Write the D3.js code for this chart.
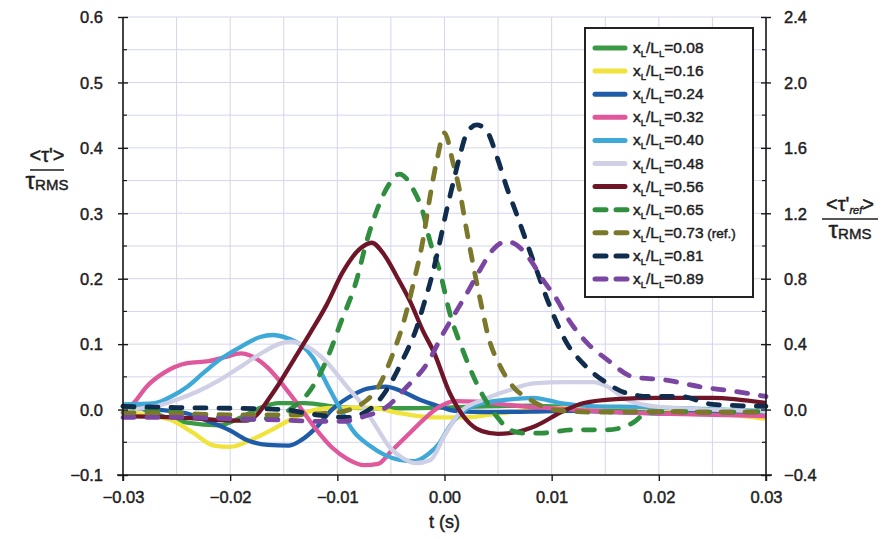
<!DOCTYPE html>
<html><head><meta charset="utf-8">
<script src="https://cdn.jsdelivr.net/npm/d3@7"></script>
<style>
body{margin:0;background:#fff;}
svg text{font-family:"Liberation Sans",Arial,sans-serif;fill:#1e1e1e;stroke:#1e1e1e;stroke-width:0.45px;}
</style></head>
<body><svg id="c" width="888" height="539"></svg>
<script>
// ---------- data ----------
const seriesLabels = ["0.08","0.16","0.24","0.32","0.40","0.48","0.56","0.65","0.73 (ref.)","0.81","0.89"];
const xTicks = [-0.03,-0.02,-0.01,0.00,0.01,0.02,0.03];
const yTicksLeft = [-0.1,0.0,0.1,0.2,0.3,0.4,0.5,0.6];
const yTicksRight = [-0.4,0.0,0.4,0.8,1.2,1.6,2.0,2.4];

const t08 = [-0.030,-0.028,-0.026,-0.024,-0.021,-0.019,-0.017,-0.0155,-0.013,-0.010,-0.007,-0.004,0.000,0.004,0.008,0.012,0.016,0.020,0.025,0.030];
const v08 = [0.008,0.000,-0.012,-0.020,-0.024,-0.012,0.004,0.010,0.010,0.004,0.002,0.002,0.003,0.005,0.006,0.003,-0.002,-0.005,-0.007,-0.005];

const t16 = [-0.030,-0.028,-0.0255,-0.0235,-0.0215,-0.0200,-0.0180,-0.0160,-0.0140,-0.0120,-0.0100,-0.0070,-0.0040,-0.0010,0.0020,0.0050,0.0090,0.0130,0.0170,0.0210,0.0250,0.0300];
const v16 = [0.002,-0.008,-0.016,-0.035,-0.055,-0.057,-0.046,-0.030,-0.012,0.000,0.003,0.003,-0.006,-0.012,-0.012,-0.006,0.000,0.004,0.004,0.000,-0.005,-0.014];

const t24 = [-0.030,-0.027,-0.024,-0.022,-0.020,-0.0185,-0.0165,-0.0145,-0.0133,-0.0120,-0.0105,-0.0090,-0.0072,-0.0055,-0.0040,-0.0023,-0.0005,0.0010,0.0040,0.0080,0.0120,0.0160,0.0200,0.0250,0.0300];
const v24 = [0.003,0.000,-0.006,-0.018,-0.032,-0.046,-0.054,-0.055,-0.046,-0.028,0.000,0.018,0.032,0.035,0.028,0.015,0.005,-0.002,-0.004,-0.003,-0.002,-0.004,-0.006,-0.005,-0.004];

const t32 = [-0.030,-0.029,-0.0278,-0.0262,-0.024,-0.022,-0.0205,-0.019,-0.0178,-0.0165,-0.0150,-0.0135,-0.0120,-0.0105,-0.0090,-0.0075,-0.0062,-0.0050,-0.0035,-0.0020,-0.0005,0.0010,0.0030,0.0060,0.0090,0.0120,0.0160,0.0200,0.0250,0.0300];
const v32 = [-0.004,0.010,0.035,0.056,0.071,0.074,0.080,0.086,0.080,0.064,0.036,0.004,-0.030,-0.058,-0.076,-0.085,-0.083,-0.064,-0.040,-0.016,0.004,0.013,0.012,0.007,0.003,0.000,-0.004,-0.006,-0.008,-0.010];

const t40 = [-0.030,-0.027,-0.0255,-0.024,-0.0225,-0.021,-0.019,-0.0172,-0.0160,-0.0148,-0.0135,-0.0123,-0.0110,-0.0097,-0.0085,-0.0070,-0.0055,-0.0042,-0.0028,-0.0015,-0.0005,0.0005,0.0020,0.0036,0.0058,0.0083,0.0108,0.0140,0.0180,0.0220,0.0260,0.0300];
const v40 = [0.008,0.010,0.020,0.035,0.056,0.076,0.096,0.111,0.114,0.110,0.100,0.080,0.040,0.000,-0.033,-0.055,-0.070,-0.077,-0.079,-0.068,-0.052,-0.025,0.000,0.010,0.015,0.018,0.010,0.005,0.004,0.002,0.000,-0.002];

const t48 = [-0.030,-0.027,-0.025,-0.023,-0.021,-0.0188,-0.0169,-0.0155,-0.0144,-0.0128,-0.0112,-0.0091,-0.0078,-0.0063,-0.0051,-0.0039,-0.0027,-0.0013,0.0000,0.0014,0.0036,0.0061,0.0083,0.0114,0.0139,0.0152,0.0170,0.0200,0.0250,0.0300];
const v48 = [0.000,0.005,0.015,0.028,0.045,0.068,0.088,0.100,0.104,0.096,0.076,0.035,0.010,-0.028,-0.058,-0.074,-0.082,-0.077,-0.040,-0.005,0.015,0.030,0.040,0.042,0.042,0.035,0.015,0.004,0.000,-0.003];

const t56 = [-0.030,-0.025,-0.021,-0.0185,-0.0175,-0.0165,-0.0155,-0.0140,-0.0125,-0.0110,-0.0095,-0.0080,-0.0068,-0.0056,-0.0045,-0.0032,-0.0020,-0.0010,0.0005,0.0020,0.0035,0.0050,0.0065,0.0085,0.0110,0.0130,0.0160,0.0200,0.0250,0.0300];
const v56 = [-0.010,-0.012,-0.016,-0.017,-0.008,0.014,0.038,0.078,0.118,0.160,0.210,0.244,0.255,0.236,0.205,0.165,0.120,0.088,0.025,-0.015,-0.033,-0.037,-0.035,-0.025,-0.003,0.010,0.016,0.018,0.018,0.010];

const t65 = [-0.030,-0.027,-0.024,-0.021,-0.018,-0.0155,-0.0141,-0.0125,-0.0110,-0.0097,-0.0082,-0.0073,-0.0063,-0.0051,-0.0042,-0.0029,-0.0020,-0.0014,-0.0004,0.0005,0.0017,0.0033,0.0049,0.0061,0.0075,0.0089,0.0120,0.0152,0.0176,0.0189,0.0210,0.0250,0.0300];
const v65 = [0.005,0.000,-0.006,-0.012,-0.015,-0.010,0.004,0.030,0.076,0.132,0.198,0.255,0.305,0.346,0.360,0.336,0.301,0.260,0.209,0.147,0.091,0.030,-0.011,-0.031,-0.036,-0.036,-0.031,-0.031,-0.020,-0.005,-0.003,-0.004,-0.003];

const t73 = [-0.030,-0.025,-0.020,-0.015,-0.010,-0.0072,-0.0060,-0.0048,-0.0039,-0.0029,-0.0020,-0.0014,-0.0007,0.0000,0.0008,0.0014,0.0020,0.0027,0.0036,0.0040,0.0052,0.0064,0.0080,0.0101,0.0140,0.0200,0.0250,0.0300];
const v73 = [-0.005,-0.006,-0.008,-0.008,-0.004,0.015,0.040,0.086,0.129,0.193,0.260,0.321,0.382,0.423,0.377,0.336,0.280,0.219,0.147,0.117,0.066,0.035,0.015,0.000,-0.004,-0.003,-0.004,-0.004];

const t81 = [-0.030,-0.025,-0.020,-0.015,-0.012,-0.009,-0.0075,-0.0067,-0.0054,-0.0039,-0.0026,-0.0020,-0.0011,-0.0004,0.0002,0.0008,0.0014,0.0021,0.0030,0.0039,0.0049,0.0058,0.0067,0.0077,0.0086,0.0095,0.0105,0.0114,0.0129,0.0152,0.0170,0.0192,0.0220,0.0250,0.0300];
const v81 = [0.005,0.003,0.002,0.000,-0.008,-0.012,-0.005,0.004,0.030,0.076,0.125,0.157,0.209,0.259,0.305,0.346,0.386,0.423,0.435,0.427,0.386,0.340,0.300,0.254,0.213,0.172,0.132,0.102,0.071,0.040,0.025,0.020,0.020,0.008,0.005];

const t89 = [-0.030,-0.025,-0.020,-0.015,-0.012,-0.0095,-0.0076,-0.0054,-0.0035,-0.0016,-0.0001,0.0008,0.0021,0.0033,0.0045,0.0058,0.0067,0.0080,0.0092,0.0105,0.0114,0.0133,0.0152,0.0176,0.0207,0.0238,0.0270,0.0300];
const v89 = [-0.012,-0.012,-0.014,-0.016,-0.018,-0.018,-0.011,0.004,0.035,0.071,0.117,0.142,0.178,0.213,0.244,0.257,0.252,0.229,0.198,0.168,0.142,0.102,0.076,0.050,0.045,0.035,0.028,0.020];

const seriesT = [t08,t16,t24,t32,t40,t48,t56,t65,t73,t81,t89];
const seriesV = [v08,v16,v24,v32,v40,v48,v56,v65,v73,v81,v89];
const colors = ["#3b9a46","#efe33c","#1f5ca8","#e0589c","#3ea9d8","#cfd0e6","#6e1528","#2f8f3f","#7b782c","#102d4d","#7a46a2"];
const dashed = [false,false,false,false,false,false,false,true,true,true,true];

// ---------- layout ----------
const svg = d3.select("#c");
const L=123, R=766, T=17, B=475;
const x = d3.scaleLinear().domain([-0.03,0.03]).range([L,R]);
const y = d3.scaleLinear().domain([-0.1,0.6]).range([B,T]);
const y2 = d3.scaleLinear().domain([-0.4,2.4]).range([B,T]);

// grid
const gridCol="#d5d5ec";
const g = svg.append("g");
g.selectAll("line.v").data(d3.range(-0.03,0.0301,0.005)).join("line")
  .attr("x1",d=>x(d)).attr("x2",d=>x(d)).attr("y1",T).attr("y2",B)
  .attr("stroke",gridCol).attr("stroke-width",1);
g.selectAll("line.h").data(d3.range(-0.1,0.601,0.05)).join("line")
  .attr("x1",L).attr("x2",R).attr("y1",d=>y(d)).attr("y2",d=>y(d))
  .attr("stroke",gridCol).attr("stroke-width",1);

// series
const line = d3.line().x(d=>x(d[0])).y(d=>y(d[1])).curve(d3.curveMonotoneX);
const lines = svg.append("g");
seriesT.forEach((ts,i)=>{
  const pts = ts.map((t,j)=>[t,seriesV[i][j]]);
  lines.append("path").datum(pts).attr("d",line)
    .attr("fill","none").attr("stroke",colors[i])
    .attr("stroke-width",dashed[i]?4.8:4.3)
    .attr("stroke-linecap",dashed[i]?"round":"butt")
    .attr("stroke-linejoin","round")
    .attr("stroke-dasharray",dashed[i]?"11,13":null);
});

// axes
const axCol="#1a1a1a";
const ax = svg.append("g");
ax.append("line").attr("x1",L).attr("x2",L).attr("y1",T).attr("y2",B+6).attr("stroke",axCol).attr("stroke-width",1.6);
ax.append("line").attr("x1",R).attr("x2",R).attr("y1",T).attr("y2",B+6).attr("stroke",axCol).attr("stroke-width",1.6);
ax.append("line").attr("x1",L-6).attr("x2",R+6).attr("y1",B).attr("y2",B).attr("stroke",axCol).attr("stroke-width",1.6);

const gl = svg.append("g").attr("transform",`translate(${L},0)`)
  .call(d3.axisLeft(y).tickValues(yTicksLeft).tickFormat(d3.format(".1f")).tickSizeInner(5).tickSizeOuter(0));
const gr = svg.append("g").attr("transform",`translate(${R},0)`)
  .call(d3.axisRight(y2).tickValues(yTicksRight).tickFormat(d3.format(".1f")).tickSizeInner(5).tickSizeOuter(0));
const gb = svg.append("g").attr("transform",`translate(0,${B})`)
  .call(d3.axisBottom(x).tickValues(xTicks).tickFormat(d3.format(".2f")).tickSizeInner(6).tickSizeOuter(0));
[gl,gr,gb].forEach(a=>{
  a.select(".domain").remove();
  a.selectAll(".tick line").attr("stroke",axCol).attr("stroke-width",1.4);
  a.selectAll("text").attr("font-size",16.5).attr("fill","#1e1e1e")
   .attr("font-family","'Liberation Sans',Arial,sans-serif");
});
gl.selectAll(".tick line").attr("x1",5);
gr.selectAll(".tick line").attr("x1",-5);
gl.selectAll("text").attr("x",-20).attr("dy","0.35em");
gr.selectAll("text").attr("x",18).attr("dy","0.35em");
gb.selectAll("text").attr("y",16).attr("dy","0.71em");
// minor inner ticks
svg.append("g").selectAll("line").data(d3.range(-0.05,0.6,0.1)).join("line")
  .attr("x1",L).attr("x2",L+4).attr("y1",d=>y(d)).attr("y2",d=>y(d)).attr("stroke",axCol).attr("stroke-width",1.2);
svg.append("g").selectAll("line").data(d3.range(-0.05,0.6,0.1)).join("line")
  .attr("x1",R-4).attr("x2",R).attr("y1",d=>y(d)).attr("y2",d=>y(d)).attr("stroke",axCol).attr("stroke-width",1.2);

// axis titles
svg.append("text").attr("x",444.5).attr("y",528).attr("text-anchor","middle").attr("font-size",18).text("t (s)");

function fracLabel(cx, cyLine, num, halfW){
  const gg = svg.append("g");
  const n = gg.append("text").attr("x",cx).attr("y",cyLine-8).attr("text-anchor","middle").attr("font-size",20);
  num(n);
  gg.append("line").attr("x1",cx-halfW).attr("x2",cx+halfW).attr("y1",cyLine).attr("y2",cyLine).attr("stroke","#1e1e1e").attr("stroke-width",1.6);
  const d = gg.append("text").attr("x",cx).attr("y",cyLine+19).attr("text-anchor","middle");
  d.append("tspan").attr("font-size",24).text("τ");
  d.append("tspan").attr("font-size",15).attr("dy",1).text("RMS");
}
fracLabel(47, 170, n=>{ n.append("tspan").text("<τ'>"); }, 17);
fracLabel(850, 219, n=>{
  n.append("tspan").text("<τ'");
  n.append("tspan").attr("font-size",11).attr("font-style","italic").attr("dy",3).text("ref");
  n.append("tspan").attr("dy",-3).text(">");
}, 28);

// legend
const lg = svg.append("g");
lg.append("rect").attr("x",585).attr("y",28).attr("width",168).attr("height",269)
  .attr("fill","#fff").attr("stroke","#222").attr("stroke-width",2);
seriesLabels.forEach((lab,i)=>{
  const yy = 48 + i*23.1;
  lg.append("line").attr("x1",595).attr("x2",dashed[i]?630:625).attr("y1",yy).attr("y2",yy)
    .attr("stroke",colors[i]).attr("stroke-width",5).attr("stroke-linecap","round")
    .attr("stroke-dasharray",dashed[i]?"11,10":null);
  const tx = lg.append("text").attr("x",633).attr("y",yy+5).attr("font-size",15.5);
  tx.append("tspan").text("x");
  tx.append("tspan").attr("font-size",9.5).attr("dy",4).text("L");
  tx.append("tspan").attr("dy",-4).text("/L");
  tx.append("tspan").attr("font-size",9.5).attr("dy",4).text("L");
  tx.append("tspan").attr("dy",-4).text("="+lab.split(" ")[0]);
  if(lab.includes("(")) tx.append("tspan").attr("font-size",13.5).text(" (ref.)");
});
</script></body></html>
